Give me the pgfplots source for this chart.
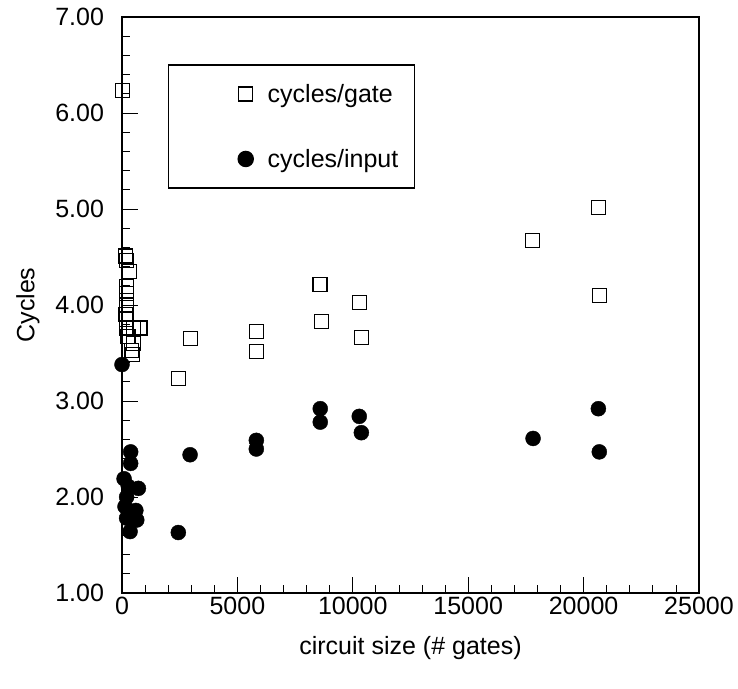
\documentclass[border=0pt]{standalone}
\usepackage{fontspec}
\setmainfont{Liberation Sans}
\usepackage{pgfplots}
\pgfplotsset{compat=1.18}
\begin{document}
\begin{tikzpicture}
\useasboundingbox (-122pt,-95pt) rectangle (616pt,593pt);
\begin{axis}[
  scale only axis, width=577pt, height=576pt,
  xmin=0, xmax=25000, ymin=1, ymax=7,
  xtick={0,5000,10000,15000,20000,25000}, ytick={1,2,3,4,5,6,7},
  scaled x ticks=false,
  minor x tick num=4, minor y tick num=4,
  tick align=inside, xtick pos=left, ytick pos=left,
  major tick length=16pt, minor tick length=8pt,
  every tick/.style={black, line width=0.8pt},
  axis line style={line width=2pt},
  clip=false,
  font=\fontsize{25}{30}\selectfont,
  /pgf/number format/assume math mode=true,
  xticklabel style={/pgf/number format/.cd, fixed, precision=0, 1000 sep={}, /tikz/.cd, yshift=-1pt},
  yticklabel style={/pgf/number format/.cd, fixed, fixed zerofill, precision=2, /tikz/.cd, xshift=-14.5pt},
  xlabel={circuit size (\# gates)},
  ylabel={Cycles},
  xlabel style={at={(axis description cs:0.5,-0.095)}, anchor=center},
  ylabel style={at={(axis description cs:-0.163,0.5)}, anchor=center},
  legend style={at={(0.0797,0.918)}, anchor=north west, draw=black, line width=1.5pt, fill=white,
    inner xsep=16pt, inner ysep=19pt, row sep=45pt, nodes={inner sep=0pt},
    font=\fontsize{25}{30}\selectfont},
  legend cell align=left,
  legend image code/.code={\path[draw=none, fill=none] (-61pt,-10pt) rectangle (22pt,10pt); \draw[#1] plot coordinates {(0pt,0pt)};},
]
\addplot[only marks, mark=square, mark size=7pt, mark options={line width=1.1pt, draw=black, fill=none}] table {
x y
30 6.23
170 4.51
200 4.46
330 4.35
200 4.19
200 4.12
200 4.00
170 3.90
200 3.85
200 3.76
480 3.76
780 3.76
260 3.67
480 3.60
410 3.53
450 3.48
2440 3.23
2960 3.65
5820 3.72
5820 3.52
8580 4.21
8640 3.83
10280 4.03
10370 3.66
17770 4.67
20640 5.02
20680 4.10
};
\addlegendentry{cycles/gate}
\addplot[only marks, mark=*, mark size=7.5pt, mark options={draw=black, fill=black}] table {
x y
0 3.38
375 2.47
375 2.35
90 2.19
710 2.09
275 2.11
200 2.00
130 1.90
600 1.86
640 1.76
200 1.78
350 1.64
2440 1.63
2950 2.44
5820 2.59
5820 2.50
8590 2.92
8590 2.78
10280 2.84
10370 2.67
17810 2.61
20640 2.92
20680 2.47
};
\addlegendentry{cycles/input}
\end{axis}
\end{tikzpicture}
\end{document}
